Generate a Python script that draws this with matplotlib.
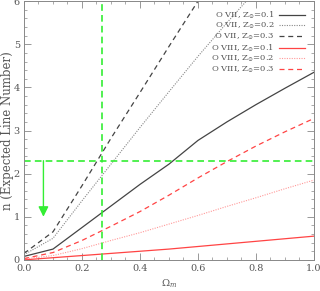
import matplotlib
matplotlib.use("Agg")
import matplotlib.pyplot as plt
from matplotlib.ticker import MultipleLocator

omega = [0.0, 0.1, 0.2, 0.3, 0.4, 0.5, 0.6, 0.7, 0.8, 0.9, 1.0]
o7_z01 = [0.08, 0.25, 0.75, 1.25, 1.75, 2.22, 2.77, 3.20, 3.60, 3.98, 4.35]
o7_z02 = [0.12, 0.50, 1.37, 2.22, 3.07, 3.90, 4.72, 5.50, 6.25, 7.0, 7.7]
o7_z03 = [0.15, 0.65, 1.72, 2.82, 3.88, 4.95, 6.00, 7.0, 8.0, 9.0, 10.0]
o8_z01 = [0.00, 0.05, 0.10, 0.15, 0.20, 0.25, 0.31, 0.37, 0.43, 0.49, 0.55]
o8_z02 = [0.02, 0.10, 0.26, 0.45, 0.63, 0.83, 1.03, 1.24, 1.44, 1.65, 1.85]
o8_z03 = [0.03, 0.17, 0.45, 0.78, 1.12, 1.50, 1.90, 2.28, 2.64, 2.97, 3.28]
labels = ["O VII, Z$_{\\odot}$=0.1", "O VII, Z$_{\\odot}$=0.2", "O VII, Z$_{\\odot}$=0.3",
          "O VIII, Z$_{\\odot}$=0.1", "O VIII, Z$_{\\odot}$=0.2", "O VIII, Z$_{\\odot}$=0.3"]
omega_cut = 0.268
n_cut = 2.3
arrow_x = 0.067
arrow_end = 1.0

plt.rcParams['font.family'] = ['DejaVu Serif']
plt.rcParams['mathtext.fontset'] = 'dejavuserif'
txt = '#555555'
fig = plt.figure(figsize=(3.2, 2.91), dpi=100)
ax = fig.add_axes([0.075, 0.107, 0.906, 0.889])

dark = '#444444'
ax.plot(omega, o7_z01, color=dark, lw=0.9, ls='-', label=labels[0])
ax.plot(omega, o7_z02, color='#888888', lw=0.8, ls=(0, (1, 1.2)), label=labels[1])
ax.plot(omega, o7_z03, color=dark, lw=0.9, ls=(0, (4, 3)), label=labels[2])
ax.plot(omega, o8_z01, color='#ff4444', lw=0.9, ls='-', label=labels[3])
ax.plot(omega, o8_z02, color='#ff9999', lw=0.8, ls=(0, (1, 1.2)), label=labels[4])
ax.plot(omega, o8_z03, color='#ff4444', lw=0.9, ls=(0, (4, 3)), label=labels[5])

green = '#33ee33'
ax.axvline(omega_cut, color=green, lw=1.2, ls=(0, (4, 2.5)))
ax.axhline(n_cut, color=green, lw=1.2, ls=(0, (4, 2.5)))
ax.annotate('', xy=(arrow_x, arrow_end), xytext=(arrow_x, n_cut),
            arrowprops=dict(arrowstyle='-|>,head_length=0.6,head_width=0.3',
                            color=green, lw=1.0, shrinkA=0, shrinkB=0))

ax.set_xlim(0, 1)
ax.set_ylim(0, 6)
ax.xaxis.set_major_locator(MultipleLocator(0.2))
ax.xaxis.set_minor_locator(MultipleLocator(0.05))
ax.yaxis.set_major_locator(MultipleLocator(1))
ax.yaxis.set_minor_locator(MultipleLocator(0.2))
ax.set_xticks([0, 0.2, 0.4, 0.6, 0.8, 1.0])
ax.set_xticklabels(['0.0', '0.2', '0.4', '0.6', '0.8', '1.0'])
ax.tick_params(which='both', direction='in', top=True, right=True,
               colors='#888888', labelcolor=txt, labelsize=7, pad=3)
ax.tick_params(which='major', length=5, width=0.6)
ax.tick_params(which='minor', length=2.5, width=0.5)
for s in ax.spines.values():
    s.set_color('#888888')
    s.set_linewidth(0.7)

ax.set_xlabel('$\\Omega_m$', color=txt, fontsize=7, labelpad=3)
ax.set_ylabel('n (Expected Line Number)', color=txt, fontsize=8.5, labelpad=0)

leg = ax.legend(loc='upper right', frameon=False, fontsize=6, markerfirst=False,
                handlelength=3.2, labelspacing=0.05, borderaxespad=0.3,
                handletextpad=0.5, bbox_to_anchor=(0.99, 0.99))
for t in leg.get_texts():
    t.set_color(txt)

fig.savefig('out.png', dpi=100)
